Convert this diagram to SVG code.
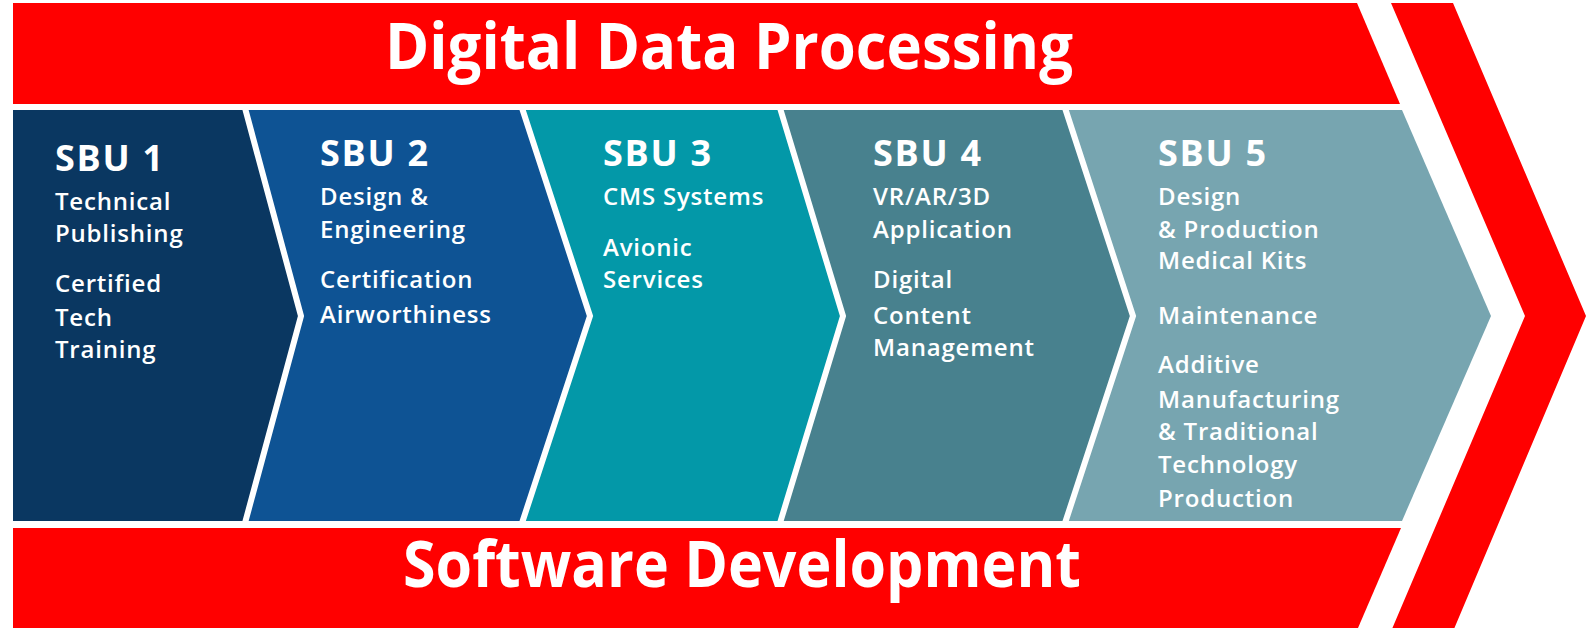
<svg xmlns="http://www.w3.org/2000/svg" width="1587" height="628" viewBox="0 0 1587 628">
<style>
.red{fill:#ff0000}
.title{font-family:"Open Sans","Liberation Sans",sans-serif;font-weight:700;font-size:65px;fill:#ffffff}
.head{font-family:"Open Sans","Liberation Sans",sans-serif;font-weight:700;font-size:36px;letter-spacing:1.7px;fill:#ffffff}
.item{font-family:"Open Sans","Liberation Sans",sans-serif;font-weight:600;font-size:24px;letter-spacing:0.8px;fill:#ffffff}
.sep{fill:none;stroke:#ffffff;stroke-width:6;stroke-linejoin:miter}
</style>
<rect width="1587" height="628" fill="#ffffff"/>
<g id="banner-top">
<polygon class="red" points="13,3 1357,3 1400,104 13,104"/>
<text class="title" x="729" y="69" text-anchor="middle" textLength="688" lengthAdjust="spacingAndGlyphs">Digital Data Processing</text>
</g>
<g id="banner-bottom">
<polygon class="red" points="13,528 1401,528 1358,628 13,628"/>
<text class="title" x="742" y="587" text-anchor="middle" textLength="678" lengthAdjust="spacingAndGlyphs">Software Development</text>
</g>
<g id="big-arrow">
<polygon class="red" points="1391,3 1453,3 1586,316 1454,629 1392,629 1525,316"/>
</g>
<g id="sbu5">
<polygon fill="#77a5b0" points="13,110 1402,110 1491,316 1402,521 13,521"/>
</g>
<g id="sbu4">
<polygon fill="#48818e" points="13,110 1065,110 1133,316 1065,521 13,521"/>
</g>
<g id="sbu3">
<polygon fill="#0398a8" points="13,110 780,110 843,316 780,521 13,521"/>
</g>
<g id="sbu2">
<polygon fill="#0e5394" points="13,110 522,110 590,316 522,521 13,521"/>
</g>
<g id="sbu1">
<polygon fill="#0a3761" points="13,110 245,110 301,316 245,521 13,521"/>
</g>
<g id="connectors">
<polyline class="sep" points="245,108 301,316 245,523"/>
<polyline class="sep" points="522,108 590,316 522,523"/>
<polyline class="sep" points="780,108 843,316 780,523"/>
<polyline class="sep" points="1065,108 1133,316 1065,523"/>
</g>
<g id="sbu1-text">
<text class="head" x="55" y="171">SBU 1</text>
<text class="item" x="55" y="210">Technical</text>
<text class="item" x="55" y="242">Publishing</text>
<text class="item" x="55" y="292">Certified</text>
<text class="item" x="55" y="326">Tech</text>
<text class="item" x="55" y="358">Training</text>
</g>
<g id="sbu2-text">
<text class="head" x="320" y="166">SBU 2</text>
<text class="item" x="320" y="205">Design &amp;</text>
<text class="item" x="320" y="238">Engineering</text>
<text class="item" x="320" y="288">Certification</text>
<text class="item" x="320" y="323">Airworthiness</text>
</g>
<g id="sbu3-text">
<text class="head" x="603" y="166">SBU 3</text>
<text class="item" x="603" y="205">CMS Systems</text>
<text class="item" x="603" y="256">Avionic</text>
<text class="item" x="603" y="288">Services</text>
</g>
<g id="sbu4-text">
<text class="head" x="873" y="166">SBU 4</text>
<text class="item" x="873" y="205">VR/AR/3D</text>
<text class="item" x="873" y="238">Application</text>
<text class="item" x="873" y="288">Digital</text>
<text class="item" x="873" y="324">Content</text>
<text class="item" x="873" y="356">Management</text>
</g>
<g id="sbu5-text">
<text class="head" x="1158" y="166">SBU 5</text>
<text class="item" x="1158" y="205">Design</text>
<text class="item" x="1158" y="238">&amp; Production</text>
<text class="item" x="1158" y="269">Medical Kits</text>
<text class="item" x="1158" y="324">Maintenance</text>
<text class="item" x="1158" y="373">Additive</text>
<text class="item" x="1158" y="408">Manufacturing</text>
<text class="item" x="1158" y="440">&amp; Traditional</text>
<text class="item" x="1158" y="473">Technology</text>
<text class="item" x="1158" y="507">Production</text>
</g>
</svg>
